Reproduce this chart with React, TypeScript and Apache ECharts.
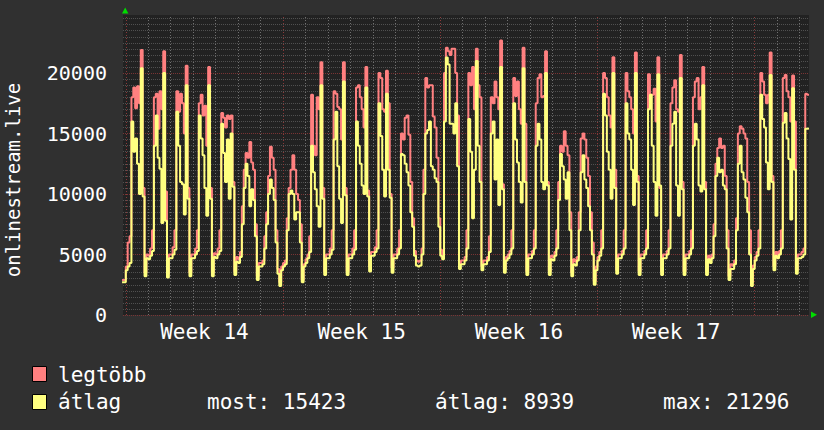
import React, { useEffect, useRef } from 'react';
import * as echarts from 'echarts';

const FONT = '"DejaVu Sans Mono", "Liberation Mono", monospace';

// time axis: hours from Monday 00:00 of week 14, one sample every 2 hours
const xMin = -3;
const xMax = 730;
const firstHour = -4;
const stepHours = 2;

const weekLabels = ['Week 14', 'Week 15', 'Week 16', 'Week 17'];
const weekLabelHours = [84, 252, 420, 588];
const weekStartHours = [0, 168, 336, 504, 672];
const dayHours = 24;

const yMax = 24800;
const yMajor = 5000;
const yMinor = 500;

const seriesNames = ['legtöbb', 'átlag'];
const statLabels = ['most', 'átlag', 'max'];
const statValues = [15423, 8939, 21296];

// legtöbb (max) — 12 samples per day (00h,02h,...,22h)
const legtobb = [
  2900, 2900,
  4000, 6000, 6500, 18000, 18800, 17100, 18900, 17500, 21900, 10500, 3500, 5000,
  4900, 5500, 7000, 18000, 18300, 15400, 18500, 17000, 21800, 10200, 3400, 5000,
  5000, 5600, 7000, 18500, 16800, 18300, 17500, 15000, 20600, 10500, 3500, 5000,
  5000, 5500, 7000, 17500, 18200, 16500, 17300, 14000, 20500, 10500, 3500, 5100,
  5000, 5500, 7000, 16700, 16300, 15500, 16500, 16200, 16500, 11000, 3600, 4800,
  4600, 5200, 9000, 12000, 13400, 13000, 14300, 12600, 12000, 7500, 3200, 4300,
  4300, 4500, 6500, 8500, 11500, 13900, 13000, 12000, 7000, 3800, 2700, 4000,
  4300, 4500, 8000, 10500, 12000, 13200, 12000, 10000, 9500, 7500, 2900, 4200,
  4600, 5000, 6500, 18200, 14000, 13200, 18000, 17000, 20900, 10500, 3600, 5000,
  5000, 5500, 7000, 18500, 18300, 17200, 17000, 14500, 20900, 10500, 3600, 5000,
  5000, 5500, 7000, 18800, 19000, 18000, 17000, 15500, 20500, 10300, 4000, 5200,
  5200, 5600, 7000, 20000, 19600, 17000, 16800, 20200, 17500, 10000, 3900, 5000,
  5000, 5500, 7000, 15000, 14500, 16300, 16500, 14900, 11000, 8000, 5300, 4500,
  4400, 4500, 5500, 12000, 19600, 18800, 19000, 19000, 16400, 15500, 13000, 8000,
  5400, 5000, 20000, 22100, 21800, 21500, 22000, 22000, 20000, 16500, 4200, 4500,
  4500, 4800, 7000, 20000, 19000, 20500, 17000, 22000, 19000, 18000, 4000, 4500,
  4500, 4800, 6500, 18000, 17500, 19300, 18000, 17000, 22700, 10800, 3800, 4800,
  5000, 5300, 7000, 19600, 18100, 19300, 17000, 15800, 22100, 15800, 3600, 5000,
  5000, 5300, 7000, 17500, 19600, 19900, 18000, 18100, 21800, 11000, 3600, 4900,
  4800, 5200, 7000, 11000, 14000, 13500, 15200, 14000, 13200, 8500, 3500, 4600,
  4400, 4800, 8500, 14600, 15000, 14500, 13000, 11500, 8500, 6000, 2800, 4000,
  4800, 5200, 7000, 20000, 19600, 18000, 16500, 15500, 21300, 12000, 3700, 5000,
  5000, 5300, 7000, 20000, 18500, 18000, 17000, 15000, 21700, 11500, 3600, 5000,
  5000, 5300, 7000, 19900, 18200, 18200, 18700, 16000, 21300, 10500, 3600, 5000,
  5000, 5300, 7000, 17500, 18800, 19400, 17000, 16800, 21500, 11000, 3600, 5000,
  5000, 5300, 7000, 18000, 19300, 19600, 17000, 18000, 20500, 11000, 3600, 4900,
  4600, 5000, 7500, 12500, 13800, 14600, 13800, 14000, 11500, 7000, 3200, 4200,
  4100, 4500, 8000, 15000, 15600, 15400, 15000, 14600, 11000, 7000, 2700, 4100,
  4800, 5200, 7000, 20000, 19300, 18200, 17500, 18200, 21700, 11500, 4000, 5200,
  5000, 5300, 7000, 19600, 19850, 18500, 18000, 16000, 19800, 16000, 3700, 5000,
  5000, 5200, 5500, 18300, 18200, 18200,
];

// átlag (average)
const atlag = [
  2700, 2700,
  3700, 4000, 4300, 16000, 13500, 14600, 12500, 10000, 20400, 9800, 3200, 4700,
  4600, 4900, 5300, 14000, 16500, 13000, 12100, 7600, 20000, 7800, 3100, 4700,
  4700, 5000, 5400, 16800, 14000, 11000, 10800, 8300, 19000, 9600, 3200, 4700,
  4700, 5000, 5300, 16500, 14600, 13200, 10500, 8200, 19000, 9600, 3200, 4800,
  4700, 5000, 5300, 15800, 13400, 11000, 14500, 9600, 15000, 10600, 3300, 4400,
  4300, 4800, 7500, 10500, 12500, 11500, 9000, 10400, 9500, 6500, 2900, 4000,
  4000, 4200, 5500, 7500, 10000, 11200, 10500, 9500, 6000, 3400, 2400, 3700,
  4000, 4200, 7000, 10000, 10300, 10000, 7900, 8500, 8500, 6000, 2700, 4000,
  4300, 4700, 5200, 14000, 11800, 10400, 9000, 7300, 19000, 9600, 3300, 4700,
  4700, 5000, 5400, 14500, 16800, 12300, 9600, 7600, 19300, 9900, 3300, 4700,
  4700, 5000, 5400, 16000, 14000, 12500, 10700, 10000, 18800, 9800, 3600, 4900,
  4900, 5200, 5500, 17500, 14800, 12000, 9800, 18300, 12000, 9700, 3500, 4700,
  4700, 5000, 5500, 13300, 13200, 12500, 11800, 10700, 8500, 7300, 4900, 4100,
  4000, 4100, 5000, 10000, 15000, 15300, 16000, 12300, 12000, 11300, 11000, 7300,
  4900, 4600, 16000, 21296, 20700, 15800, 15800, 15000, 17500, 12300, 3800, 4200,
  4200, 4500, 5500, 16200, 13500, 8000, 12000, 21000, 14000, 11000, 3700, 4200,
  4200, 4500, 5200, 15000, 16000, 11200, 14500, 9100, 20500, 10400, 3500, 4500,
  4700, 5000, 5500, 17500, 14500, 12600, 11000, 9300, 20400, 11000, 3300, 4700,
  4700, 5000, 5500, 14000, 15800, 14500, 11000, 10400, 20000, 10700, 3300, 4600,
  4500, 4900, 5500, 9500, 13300, 12300, 11200, 9600, 11800, 7000, 3200, 4200,
  4100, 4500, 7000, 11800, 13200, 11200, 10500, 9000, 7000, 5000, 2500, 3700,
  4500, 4900, 5500, 18300, 16500, 13500, 12000, 9600, 20000, 10500, 3400, 4700,
  4700, 5000, 5500, 17500, 15000, 14500, 12000, 9100, 20000, 11000, 3300, 4700,
  4700, 5000, 5500, 17000, 18200, 14000, 11000, 8200, 19900, 10700, 3300, 4700,
  4700, 5000, 5500, 14000, 15800, 16800, 10700, 8200, 19600, 10400, 3300, 4700,
  4700, 5000, 5500, 14000, 15800, 14500, 10700, 10200, 19000, 10400, 3300, 4600,
  4300, 4700, 6500, 11500, 13000, 11800, 12000, 10700, 10400, 5500, 2900, 3800,
  3800, 4200, 7000, 12500, 14000, 11800, 11200, 9700, 8500, 5000, 2400, 3800,
  4500, 4900, 5500, 18200, 16200, 15500, 12600, 10400, 19850, 11000, 3700, 4900,
  4700, 5000, 5500, 15900, 16700, 14600, 12900, 7900, 18750, 12000, 3400, 4700,
  4700, 4800, 5000, 15400, 15423, 15423,
];

const RED = '#ff8080';
const YELLOW = '#ffff80';
const MAJOR = '#7a3434';
const MINOR = '#505050';
const MINOR_V = '#707070';
const MAJOR_V = '#8a3a3a';

function toPoints(arr: number[]) {
  return arr.map((v, i) => [firstHour + i * stepHours, v]);
}

function buildOption() {
  const vLines: any[] = [];
  for (let h = 0; h < xMax; h += dayHours) {
    const isWeek = weekStartHours.indexOf(h) >= 0;
    vLines.push({ xAxis: h, lineStyle: { color: isWeek ? MAJOR_V : MINOR_V } });
  }
  const splitColors = Array.from({ length: yMajor / yMinor }, (_, i) => (i === 0 ? MAJOR : MINOR));

  const textBase = { fill: '#ffffff', fontFamily: FONT, fontSize: 21, verticalAlign: 'middle', align: 'left' };

  return {
    backgroundColor: '#303030',
    animation: false,
    textStyle: { fontFamily: FONT },
    grid: {
      left: 123, top: 15, width: 686, height: 300,
      show: true, backgroundColor: '#222222', borderWidth: 0,
      containLabel: false, outerBoundsMode: 'none',
    },
    xAxis: {
      type: 'value', min: xMin, max: xMax,
      axisLine: { show: false },
      axisTick: { show: false },
      splitLine: { show: false },
      axisLabel: {
        customValues: weekLabelHours,
        formatter: (v: number) => {
          const i = weekLabelHours.indexOf(v);
          return i >= 0 ? weekLabels[i] : '';
        },
        color: '#ffffff', fontSize: 21, fontFamily: FONT, margin: 6,
        showMinLabel: true, showMaxLabel: true,
      },
    },
    yAxis: {
      type: 'value', min: 0, max: yMax, interval: yMinor,
      axisLine: { show: false },
      axisTick: { show: false },
      axisLabel: {
        formatter: (v: number) => (v % yMajor === 0 ? String(v) : ''),
        color: '#ffffff', fontSize: 20, fontFamily: FONT, margin: 16,
      },
      splitLine: {
        show: true, showMaxLine: false,
        lineStyle: { color: splitColors, type: [1, 1], width: 1 },
      },
    },
    series: [
      {
        name: seriesNames[0], type: 'line', step: 'end', symbol: 'none',
        data: toPoints(legtobb), z: 3,
        lineStyle: { color: RED, width: 2 },
        markLine: {
          z: 1, silent: true, symbol: ['none', 'none'], label: { show: false },
          emphasis: { disabled: true },
          lineStyle: { type: [1, 2], width: 1 },
          data: vLines,
        },
      },
      {
        name: seriesNames[1], type: 'line', step: 'end', symbol: 'none',
        data: toPoints(atlag), z: 4,
        lineStyle: { color: YELLOW, width: 2 },
      },
    ],
    graphic: [
      {
        type: 'text', x: 13, y: 180, rotation: Math.PI / 2,
        style: { text: 'onlinestream.live', fill: '#ffffff', fontFamily: FONT, fontSize: 19, align: 'center', verticalAlign: 'middle' },
      },
      { type: 'polygon', shape: { points: [[125.2, 7.5], [122, 13.5], [128.4, 13.5]] }, style: { fill: '#00dd00' } },
      { type: 'polygon', shape: { points: [[817, 314.8], [811, 311.6], [811, 318]] }, style: { fill: '#00dd00' } },
      { type: 'rect', shape: { x: 32.5, y: 366.5, width: 14, height: 15 }, style: { fill: RED, stroke: '#000', lineWidth: 1 } },
      { type: 'rect', shape: { x: 32.5, y: 394.5, width: 14, height: 15 }, style: { fill: YELLOW, stroke: '#000', lineWidth: 1 } },
      { type: 'text', x: 58, y: 375, style: { ...textBase, text: seriesNames[0] } },
      { type: 'text', x: 58, y: 402, style: { ...textBase, text: seriesNames[1] } },
      { type: 'text', x: 207, y: 402, style: { ...textBase, text: `${statLabels[0]}: ${statValues[0]}` } },
      { type: 'text', x: 435, y: 402, style: { ...textBase, text: `${statLabels[1]}: ${statValues[1]}` } },
      { type: 'text', x: 663, y: 402, style: { ...textBase, text: `${statLabels[2]}: ${statValues[2]}` } },
    ],
  };
}

export default function App() {
  const ref = useRef<HTMLDivElement>(null);
  useEffect(() => {
    document.body.style.margin = '0';
    const chart = echarts.init(ref.current as HTMLDivElement, undefined, { renderer: 'svg' });
    chart.setOption(buildOption() as any);
    return () => chart.dispose();
  }, []);
  return <div ref={ref} style={{ position: 'absolute', left: 0, top: 0, width: 824, height: 430 }} />;
}
